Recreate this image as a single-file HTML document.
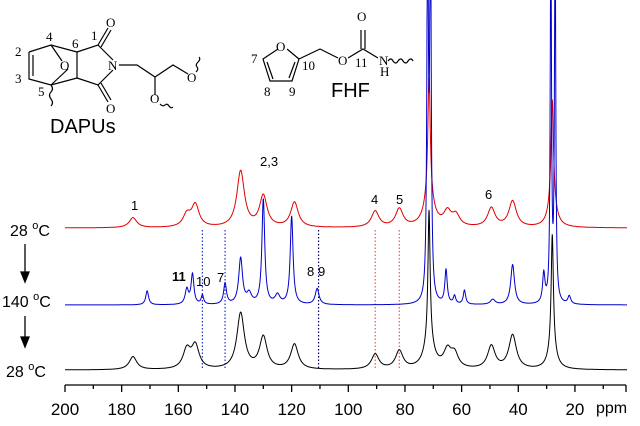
<!DOCTYPE html>
<html><head><meta charset="utf-8"><style>
html,body{margin:0;padding:0;background:#fff;}
svg{display:block;font-family:"Liberation Sans",Arial,sans-serif;}
.ser{font-family:"Liberation Serif",serif;font-size:13px;}
</style></head><body>
<svg id="chart" width="640" height="426" viewBox="0 0 640 426">
<g id="struct" stroke="#000" stroke-width="1.2" fill="none">
  <g>
    <polyline points="29,52 51,45 77,52 77,78 51,85 29,79 29,52"/>
    <line x1="33" y1="55" x2="33" y2="76"/>
    <polyline points="51,45 62,61"/><polyline points="68,69 51,85"/>
    <polyline points="77,52 98,45 113,60"/><polyline points="77,78 98,85 113,70"/>
    <line x1="98" y1="45" x2="108" y2="28"/><line x1="101" y1="47" x2="111" y2="30"/>
    <line x1="98" y1="85" x2="108" y2="102"/><line x1="101" y1="83" x2="111" y2="100"/>
    <polyline points="119,65 137,65 155,77 173,65 188,74"/>
    <line x1="155" y1="77" x2="155" y2="95"/>
    <path d="M196,72 q3,-3 1,-5 q-2,-2 1,-5 q3,-3 1,-5"/>
    <path d="M160,104 q3,3 5,1 q2,-2 4,1 q2,3 4,1"/>
    <path d="M51,85 q3,4 0,7 q-3,3 0,7 q3,4 0,7"/>
  </g>
  <g>
    <polyline points="278,49 263,59 270,81 292,81 299,59 287,49"/>
    <line x1="267" y1="62" x2="273" y2="79"/><line x1="295" y1="62" x2="289" y2="78"/>
    <polyline points="299,59 320,49 338,58"/><polyline points="348,58 363,49 378,58"/>
    <line x1="361" y1="49" x2="361" y2="30"/><line x1="365" y1="49" x2="365" y2="30"/>
    <path d="M388,61 q3,-4 5,0 q3,4 5,0 q3,-4 5,0 q3,4 5,0 q3,-4 5,0"/>
  </g>
</g>
<g class="ser" fill="#000">
  <text x="15" y="56">2</text><text x="15" y="83">3</text><text x="46" y="41">4</text>
  <text x="38" y="96">5</text><text x="72" y="48">6</text><text x="91" y="40">1</text>
  <text x="60" y="70">O</text><text x="106" y="27">O</text><text x="106" y="113">O</text>
  <text x="108" y="70">N</text><text x="150" y="103">O</text><text x="187" y="82">O</text>
  <text x="276" y="51">O</text><text x="251" y="63">7</text><text x="264" y="96">8</text>
  <text x="289" y="96">9</text><text x="302" y="70">10</text><text x="338" y="65">O</text>
  <text x="357" y="21">O</text><text x="355" y="67">11</text><text x="379" y="65">N</text><text x="380" y="76">H</text>
</g>
<text x="50" y="133" font-size="20">DAPUs</text>
<text x="331" y="97" font-size="20">FHF</text>
<g id="dots"></g>
<g id="spectra"></g>
<g id="axis"></g>
<g font-size="13" fill="#000">
  <text x="131" y="210">1</text><text x="260" y="166">2,3</text>
  <text x="371" y="204">4</text><text x="396" y="204">5</text><text x="485" y="199">6</text>
  <text x="172" y="281" font-weight="bold">11</text><text x="196" y="286">10</text>
  <text x="217" y="282">7</text><text x="307" y="276">8</text><text x="318" y="276">9</text>
</g>
<g font-size="16" fill="#000">
  <text x="10" y="236">28 <tspan font-size="11" dy="-7">o</tspan><tspan dy="7">C</tspan></text>
  <text x="2" y="307">140 <tspan font-size="11" dy="-7">o</tspan><tspan dy="7">C</tspan></text>
  <text x="6" y="377">28 <tspan font-size="11" dy="-7">o</tspan><tspan dy="7">C</tspan></text>
</g>
<g stroke="#000" stroke-width="1.3">
  <line x1="25" y1="244" x2="25" y2="275"/><polygon points="21,272 29,272 25,282" fill="#000"/>
  <line x1="25" y1="316" x2="25" y2="340"/><polygon points="21,337 29,337 25,347" fill="#000"/>
</g>
</svg>
<script>
const redPos=[176,157,154,138,130,119,90.5,82,71.5,71.5,65,62,49.5,42,28,28];
const redH=[10,12,22,56,31,25,16,18,120,30,14,11,19,26,100,28];
const redW=[1.6,1.6,1.6,1.6,1.6,1.6,1.6,1.6,0.5,2,1.6,1.6,1.6,1.6,0.5,1.5];
const bluePos=[171,157,155,151.5,143.5,138,135,130,125,120,111,72,71,65.5,62.5,59,49,42,31,28.5,27,22];
const blueH=[14,15,30,9,21,46,10,105,9,88,16,400,400,34,8,14,5,40,29,400,400,8];
const blueW=[0.6,0.7,0.6,0.5,0.6,0.8,1,0.6,1,0.6,0.8,0.3,0.3,0.5,0.5,0.5,1,0.8,0.5,0.25,0.25,0.6];
const blackPos=[176,157,154,138,130,119,90.5,82,71.5,71.5,65,62.5,49.5,42,28,28];
const blackH=[13,19,23,56,32,25,15,18,130,28,17,14,23,34,110,25];
const blackW=[1.6,1.6,1.6,1.6,1.6,1.6,1.6,1.6,0.45,2,1.6,1.6,1.6,1.6,0.45,1.5];
const ticks=[200,180,160,140,120,100,80,60,40,20];
const NS="http://www.w3.org/2000/svg";
function X(p){return 65+(200-p)*2.833;}
const spec=document.getElementById('spectra');
function curve(pos,h,w,base,col,name){
  let d="";
  for(let px=65;px<=627;px+=0.25){
    const p=200-(px-65)/2.833;let y=0;
    for(let i=0;i<pos.length;i++){const t=(p-pos[i])/w[i];y+=h[i]/(1+t*t);}
    d+=(d?"L":"M")+px+","+Math.max(-5,base-y).toFixed(1);
  }
  const e=document.createElementNS(NS,'path');
  e.setAttribute('d',d);e.setAttribute('fill','none');e.setAttribute('stroke',col);e.setAttribute('stroke-width','1');
  
  
  spec.appendChild(e);
}
curve(redPos,redH,redW,228,'#e00000','spectrum-28c-initial');
curve(blackPos,blackH,blackW,370,'#000','spectrum-28c-final');
curve(bluePos,blueH,blueW,305,'#0000cc','spectrum-140c');
const dots=document.getElementById('dots');
[[151.5,'#2233cc'],[143.5,'#2233cc'],[110.5,'#000066'],[90.5,'#ff5050'],[82,'#ff5050']].forEach(a=>{
  const l=document.createElementNS(NS,'line');
  l.setAttribute('x1',X(a[0]));l.setAttribute('x2',X(a[0]));l.setAttribute('y1',230);l.setAttribute('y2',370);
  l.setAttribute('stroke',a[1]);l.setAttribute('stroke-dasharray','1.5,2');l.setAttribute('stroke-width','1.2');
  
  
  dots.appendChild(l);
});
const ax=document.getElementById('axis');
const al=document.createElementNS(NS,'line');
al.setAttribute('x1',65);al.setAttribute('x2',626);al.setAttribute('y1',385);al.setAttribute('y2',385);al.setAttribute('stroke','#000');al.setAttribute('stroke-width','1.3');


ax.appendChild(al);
for(let p=200;p>=2;p-=10){
  const t=document.createElementNS(NS,'line');
  t.setAttribute('x1',X(p));t.setAttribute('x2',X(p));t.setAttribute('y1',385);t.setAttribute('y2',p%20==0?392:389);t.setAttribute('stroke','#000');t.setAttribute('stroke-width','1.3');
  
  
  ax.appendChild(t);
}
const et=document.createElementNS(NS,'line');
et.setAttribute('x1',626);et.setAttribute('x2',626);et.setAttribute('y1',385);et.setAttribute('y2',392);et.setAttribute('stroke','#000');et.setAttribute('stroke-width','1.3');


ax.appendChild(et);
ticks.forEach(v=>{
  const t=document.createElementNS(NS,'text');
  t.setAttribute('x',X(v));t.setAttribute('y',415);t.setAttribute('text-anchor','middle');t.setAttribute('font-size','17');
  t.textContent=v;
  
  
  ax.appendChild(t);
});
const u=document.createElementNS(NS,'text');
u.setAttribute('x',596);u.setAttribute('y',413);u.setAttribute('font-size','16');u.textContent='ppm';


ax.appendChild(u);
</script>
</body></html>
